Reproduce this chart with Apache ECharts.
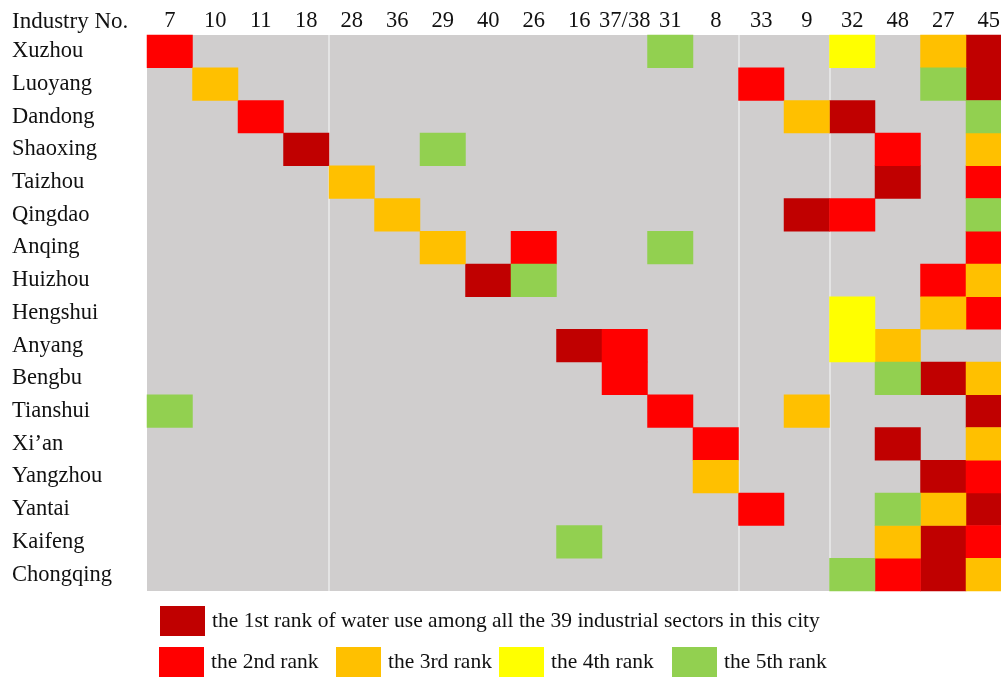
<!DOCTYPE html>
<html>
<head>
<meta charset="utf-8">
<script src="https://cdn.jsdelivr.net/npm/echarts@6/dist/echarts.min.js"></script>
<style>
  html, body { margin: 0; padding: 0; background: #fff; }
  #chart { width: 1001px; height: 681px; }
</style>
</head>
<body>
<div id="chart"></div>
<script>
// industry numbers (columns) and cities (rows)
const industries = ["7", "10", "11", "18", "28", "36", "29", "40", "26", "16", "37/38", "31", "8", "33", "9", "32", "48", "27", "45"];
const cities = ["Xuzhou", "Luoyang", "Dandong", "Shaoxing", "Taizhou", "Qingdao", "Anqing", "Huizhou", "Hengshui",
  "Anyang", "Bengbu", "Tianshui", "Xi\u2019an", "Yangzhou", "Yantai", "Kaifeng", "Chongqing"];

// rank of water use per city / industry (0 = not in top 5)
//            7 10 11 18 28 36 29 40 26 16 37 31  8 33  9 32 48 27 45
const ranks = [
  [2, 0, 0, 0, 0, 0, 0, 0, 0, 0, 0, 5, 0, 0, 0, 4, 0, 3, 1], // Xuzhou
  [0, 3, 0, 0, 0, 0, 0, 0, 0, 0, 0, 0, 0, 2, 0, 0, 0, 5, 1], // Luoyang
  [0, 0, 2, 0, 0, 0, 0, 0, 0, 0, 0, 0, 0, 0, 3, 1, 0, 0, 5], // Dandong
  [0, 0, 0, 1, 0, 0, 5, 0, 0, 0, 0, 0, 0, 0, 0, 0, 2, 0, 3], // Shaoxing
  [0, 0, 0, 0, 3, 0, 0, 0, 0, 0, 0, 0, 0, 0, 0, 0, 1, 0, 2], // Taizhou
  [0, 0, 0, 0, 0, 3, 0, 0, 0, 0, 0, 0, 0, 0, 1, 2, 0, 0, 5], // Qingdao
  [0, 0, 0, 0, 0, 0, 3, 0, 2, 0, 0, 5, 0, 0, 0, 0, 0, 0, 2], // Anqing
  [0, 0, 0, 0, 0, 0, 0, 1, 5, 0, 0, 0, 0, 0, 0, 0, 0, 2, 3], // Huizhou
  [0, 0, 0, 0, 0, 0, 0, 0, 0, 0, 0, 0, 0, 0, 0, 4, 0, 3, 2], // Hengshui
  [0, 0, 0, 0, 0, 0, 0, 0, 0, 1, 2, 0, 0, 0, 0, 4, 3, 0, 0], // Anyang
  [0, 0, 0, 0, 0, 0, 0, 0, 0, 0, 2, 0, 0, 0, 0, 0, 5, 1, 3], // Bengbu
  [5, 0, 0, 0, 0, 0, 0, 0, 0, 0, 0, 2, 0, 0, 3, 0, 0, 0, 1], // Tianshui
  [0, 0, 0, 0, 0, 0, 0, 0, 0, 0, 0, 0, 2, 0, 0, 0, 1, 0, 3], // Xi'an
  [0, 0, 0, 0, 0, 0, 0, 0, 0, 0, 0, 0, 3, 0, 0, 0, 0, 1, 2], // Yangzhou
  [0, 0, 0, 0, 0, 0, 0, 0, 0, 0, 0, 0, 0, 2, 0, 0, 5, 3, 1], // Yantai
  [0, 0, 0, 0, 0, 0, 0, 0, 0, 5, 0, 0, 0, 0, 0, 0, 3, 1, 2], // Kaifeng
  [0, 0, 0, 0, 0, 0, 0, 0, 0, 0, 0, 0, 0, 0, 0, 5, 2, 1, 3]  // Chongqing
];

const rankNames = [
  "the 1st rank of water use among all the 39 industrial sectors in this city",
  "the 2nd rank",
  "the 3rd rank",
  "the 4th rank",
  "the 5th rank"
];
const rankColors = ["#c00000", "#ff0000", "#ffc000", "#ffff00", "#92d050"];

// column boundaries with a light separator line (left edge of these categories)
const separators = [4, 13, 15];

const font = "'Liberation Serif', 'Times New Roman', serif";

const chart = echarts.init(document.getElementById("chart"));

// one heatmap series per rank
const series = rankNames.map((name, r) => {
  const cells = [];
  ranks.forEach((row, y) => {
    row.forEach((v, x) => {
      if (v === r + 1) cells.push([x, y, v]);
    });
  });
  return {
    name: name,
    type: "heatmap",
    data: cells,
    itemStyle: { color: rankColors[r] },
    emphasis: { disabled: true }
  };
});

// legend items are placed by hand like in the original figure
const legendPos = [[155, 601], [154, 642], [331, 642], [494, 642], [667, 642]];
const legends = rankNames.map((name, i) => ({
  data: [name],
  left: legendPos[i][0],
  top: legendPos[i][1],
  icon: "rect",
  itemWidth: 45,
  itemHeight: 30,
  selectedMode: false,
  textStyle: { fontFamily: font, fontSize: 21.5, color: "#111", padding: [0, 0, 0, 2] }
}));

chart.setOption({
  animation: false,
  backgroundColor: "#fff",
  title: {
    text: "Industry No.",
    left: 12,
    top: 10,
    padding: 0,
    textStyle: { fontFamily: font, fontSize: 23, fontWeight: "normal", color: "#111" }
  },
  legend: legends,
  grid: {
    left: 147,
    top: 35,
    width: 864.5,
    height: 556,
    outerBoundsMode: "none",
    show: true,
    backgroundColor: "#d0cece",
    borderWidth: 0
  },
  xAxis: {
    type: "category",
    position: "top",
    data: industries,
    axisLine: { show: false },
    axisTick: { show: false },
    axisLabel: { interval: 0, margin: 2, fontFamily: font, fontSize: 22.5, color: "#111" },
    splitLine: {
      show: true,
      interval: (i) => separators.includes(i),
      lineStyle: { color: "#e4e4e4", width: 2 }
    }
  },
  yAxis: {
    type: "category",
    inverse: true,
    data: cities,
    axisLine: { show: false },
    axisTick: { show: false },
    splitLine: { show: false },
    axisLabel: { interval: 0, align: "left", margin: 135, fontFamily: font, fontSize: 22.5, color: "#111" }
  },
  series: series
});

window.addEventListener("resize", () => chart.resize());
</script>
</body>
</html>
